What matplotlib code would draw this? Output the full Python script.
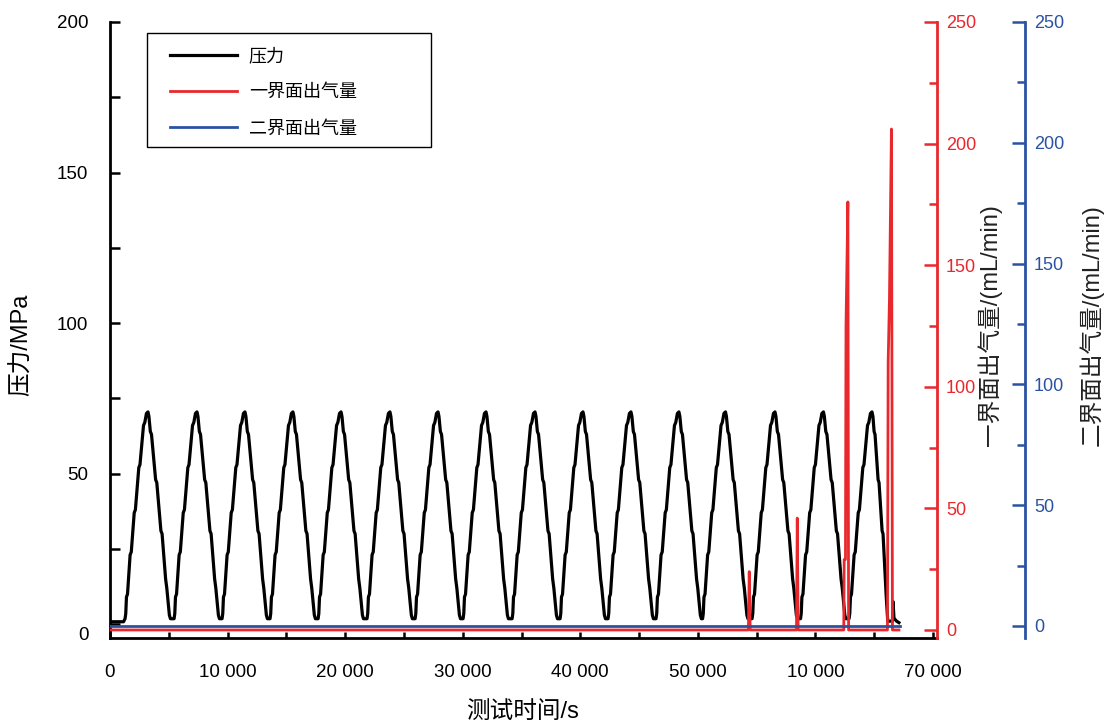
import numpy as np
import matplotlib
matplotlib.use('Agg')
import matplotlib.pyplot as plt
from matplotlib.ticker import MultipleLocator, FixedLocator, FixedFormatter
from matplotlib.patches import Rectangle

plt.rcParams['font.family'] = ['Liberation Sans', 'Noto Sans CJK SC']

RED = '#E8282D'
BLUE = '#2A52A2'

# 压力：每个循环的峰值时刻 (s)
peak_times = [3230, 7400, 11480, 15560, 19650, 23810, 27900, 31980,
              36150, 40230, 44310, 48390, 52350, 56560, 60680, 64810]
# 单个循环的升压/降压台阶（相对峰值时刻）
rise_dt = [-1950, -1890, -1830, -1740, -1520, -1420, -1170, -1070, -780, -680, -380, -270, -130, 0]
rise_p = [1.8, 3.5, 9, 10, 23, 24, 37, 38, 52, 53, 66, 67, 70, 70.5]
fall_dt = [80, 200, 300, 650, 750, 1100, 1200, 1500, 1600, 1720, 1820, 1910]
fall_p = [69, 64, 63, 48, 47, 31, 30, 15, 12, 7, 3, 1.8]
last_fall_dt = [80, 180, 260, 520, 600, 860, 940, 1200, 1340]
last_fall_p = [69, 64, 63, 48, 47, 31, 30, 10, 1]
start_t = [0, 1150]
start_p = [0.8, 0.8]
tail_t = [66550, 66600, 66680, 66900, 67100]
tail_p = [1, 7.5, 2, 1, 0.5]

# 一界面出气量
gas1_t = [0, 54300, 54370, 54450, 58390, 58455, 58530,
          62410, 62444, 62555, 62600, 62760, 62820,
          66126, 66186, 66296, 66466, 66551, 67105]
gas1_v = [0, 0, 24, 0, 0, 46, 0,
          0, 29, 29, 125, 176, 0,
          0, 110, 136, 206, 0, 0]

# 二界面出气量
gas2_t = [0, 67190]
gas2_v = [0, 0]

xticks = [0, 10000, 20000, 30000, 40000, 50000, 60000, 70000]
xtick_labels = ['0', '10 000', '20 000', '30 000', '40 000', '50 000', '10 000', '70 000']
yticks = [0, 50, 100, 150, 200]
ytick_labels = ['', '50', '100', '150', '200']

# 拼接压力曲线
p_t = list(start_t)
p_v = list(start_p)
for i, pk in enumerate(peak_times):
    p_t += [pk + d for d in rise_dt]
    p_v += rise_p
    if i < len(peak_times) - 1:
        p_t += [pk + d for d in fall_dt]
        p_v += fall_p
    else:
        p_t += [pk + d for d in last_fall_dt]
        p_v += last_fall_p
p_t += tail_t
p_v += tail_p

fig = plt.figure(figsize=(11.05, 7.23), dpi=100)
ax = fig.add_axes([110 / 1105, 1 - 638 / 723, 827 / 1105, 616 / 723])
ax2 = ax.twinx()
ax3 = ax.twinx()

l1, = ax.plot(p_t, p_v, color='black', lw=2.3, label='压力')
l2, = ax2.plot(gas1_t, gas1_v, color=RED, lw=2.0, label='一界面出气量')
l3, = ax3.plot(gas2_t, gas2_v, color=BLUE, lw=2.0, label='二界面出气量')

ax.set_xlim(0, 70340)
ax.set_ylim(-4.6, 200)
ax2.set_ylim(-3.3, 250)
ax3.set_ylim(-5, 250)

for s in ['top', 'right']:
    ax.spines[s].set_visible(False)
for a in (ax2, ax3):
    for s in ['top', 'left', 'bottom']:
        a.spines[s].set_visible(False)
ax.spines['left'].set_linewidth(2)
ax.spines['bottom'].set_linewidth(2)
ax2.spines['right'].set_color(RED)
ax2.spines['right'].set_linewidth(2)
ax3.spines['right'].set_position(('axes', 1.1064))
ax3.spines['right'].set_color(BLUE)
ax3.spines['right'].set_linewidth(2)

ax.xaxis.set_major_locator(FixedLocator(xticks))
ax.xaxis.set_major_formatter(FixedFormatter(xtick_labels))
ax.xaxis.set_minor_locator(MultipleLocator(5000))
ax.yaxis.set_major_locator(FixedLocator(yticks))
ax.yaxis.set_major_formatter(FixedFormatter(ytick_labels))
ax.yaxis.set_minor_locator(MultipleLocator(25))
ax.tick_params(axis='x', which='both', direction='in', length=4.3, width=1.8,
               labelsize=13.5, pad=18.5)
ax.tick_params(axis='y', which='both', direction='in', length=7, width=1.8,
               labelsize=13.5, pad=15.5)
# 纵轴 "0" 标签（原图中略低于刻度）
ax.annotate('0', xy=(0, 0), xycoords=('axes fraction', 'data'),
            xytext=(-15.5, -8), textcoords='offset points',
            ha='right', va='center', fontsize=13.5)

for a, c in ((ax2, RED), (ax3, BLUE)):
    a.yaxis.set_major_locator(MultipleLocator(50))
    a.yaxis.set_minor_locator(MultipleLocator(25))
    a.tick_params(axis='y', which='major', direction='in', length=9.4, width=1.8,
                  color=c, labelcolor=c, labelsize=13, pad=6.5)
    a.tick_params(axis='y', which='minor', direction='in', length=5.8, width=1.8, color=c)

ax.set_xlabel('测试时间/s', fontsize=17, va='center')
ax.xaxis.set_label_coords(0.4994, -0.12)
ax.set_ylabel('压力/MPa', fontsize=17, va='center')
ax.yaxis.set_label_coords(-0.106, 0.476)
ax2.set_ylabel('一界面出气量/(mL/min)', fontsize=17, va='center', color='#222222')
ax2.yaxis.set_label_coords(1.064, 0.508)
ax3.set_ylabel('二界面出气量/(mL/min)', fontsize=17, va='center', color='#222222')
ax3.yaxis.set_label_coords(1.187, 0.508)

fig.legend(handles=[l1, l2, l3], loc='upper left', bbox_to_anchor=(170 / 1105, 1 - 48 / 723),
           frameon=False, fontsize=13, borderpad=0, borderaxespad=0,
           handlelength=3.7, handletextpad=0.67, labelspacing=1.07)
fig.add_artist(Rectangle((147 / 1105, 1 - 147 / 723), 284 / 1105, 114 / 723,
                         transform=fig.transFigure, fill=False, ec='black', lw=1.0))

fig.savefig('out.png', dpi=100)
